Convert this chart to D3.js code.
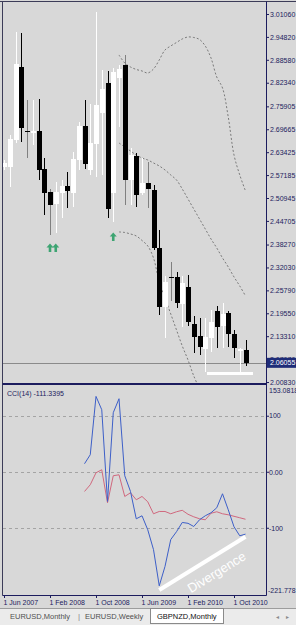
<!DOCTYPE html>
<html>
<head>
<meta charset="utf-8">
<script src="https://cdn.jsdelivr.net/npm/d3@7"></script>
<style>
body { margin: 0; background: #d8d8d8; }
svg { display: block; }
</style>
</head>
<body>
<div id="chart"></div>
<script>
//Size
var w = 296;
var h = 625;
var axisX = 266, plotL = 3;
var mainTop = 3, mainBot = 383, cciTop = 386, cciBot = 595;
var font = "'Liberation Sans', Arial, sans-serif";
var axisCol = "#1c1c5e";

//Monthly candles, Jun 2007 .. Dec 2010
var open  = [2.5940,2.5940,2.6675,2.8663,2.6920,2.6866,2.6920,2.5885,2.5259,2.4932,2.5232,2.5422,2.5232,2.6130,2.7056,2.5858,2.6566,2.7410,2.8227,2.5232,2.8363,2.8717,2.5586,2.6239,2.5232,2.5504,2.5314,2.3734,2.2128,2.2945,2.2945,2.2209,2.2672,2.1665,2.1338,2.0984,2.1283,2.2019,2.1610,2.1964,2.1392,2.0929,2.0957];
var high  = [2.6130,2.6811,2.9616,2.9589,2.7764,2.7764,2.7791,2.6185,2.5341,2.5531,2.5586,2.5804,2.6348,2.7165,2.7764,2.7655,3.0160,2.8581,2.8554,2.8636,2.8717,2.8990,2.6457,2.6321,2.6185,2.6076,2.5450,2.4224,2.2972,2.3353,2.3081,2.2972,2.2999,2.1883,2.1828,2.1828,2.2046,2.2155,2.2237,2.2019,2.1501,2.1011,2.1229];
var low   = [2.5858,2.5395,2.6593,2.6621,2.6185,2.6539,2.5586,2.4633,2.4088,2.4143,2.4551,2.4823,2.4851,2.5858,2.5885,2.5722,2.5668,2.5722,2.4551,2.4442,2.7029,2.4905,2.4905,2.4851,2.5177,2.4823,2.3680,2.1910,2.1283,2.2291,2.2100,2.1583,2.1610,2.0875,2.0821,2.0358,2.0902,2.1011,2.1011,2.1038,2.0739,2.0330,2.0521];
var close = [2.6049,2.6702,2.8744,2.7002,2.6893,2.6920,2.5858,2.5232,2.4905,2.5259,2.5422,2.5286,2.6158,2.7056,2.6021,2.6593,2.7628,2.8064,2.4796,2.8527,2.8608,2.5586,2.6267,2.5177,2.5504,2.5341,2.3734,2.2128,2.2808,2.2917,2.2237,2.2781,2.1719,2.1311,2.1038,2.1311,2.1719,2.1583,2.1937,2.1392,2.1011,2.0984,2.06055];
var grayWicks = [4, 8, 21, 25, 29];
var lastPrice = 2.06055;

//Dotted channel lines, from bar 20
var bandStart = 20;
var upperBand  = [2.8990,2.8772,2.8663,2.8595,2.8554,2.8499,2.8608,2.8853,2.9126,2.9235,2.9330,2.9426,2.9480,2.9466,2.9412,2.9235,2.8908,2.8390,2.8091,2.7301,2.6267,2.5722,2.5286];
var middleBand = [2.6593,2.6484,2.6375,2.6267,2.6185,2.6130,2.6049,2.5967,2.5858,2.5722,2.5586,2.5341,2.5068,2.4796,2.4524,2.4252,2.3979,2.3734,2.3462,2.3217,2.2945,2.2699,2.2427];
var lowerBand  = [2.4170,2.4156,2.4115,2.4061,2.3938,2.3789,2.3462,2.2808,2.2373,2.1937,2.1501,2.1066,2.0684,2.0249,1.9900];

//Buy arrows
var arrowIdx = [8, 9, 19];
var arrowPrice = [2.3734, 2.3734, 2.4034];

//White level under the last bars
var levelIdx = [35.3, 43.3];
var levelPrice = 2.0317;

//CCI(14) and its signal, from bar 14
var cciStart = 14;
var cci = [14.3,30.4,134.5,110.7,-53.0,105.4,130.4,-7.1,-35.2,-84.0,-78.6,-103.6,-139.0,-203.6,-169.0,-121.0,-107.0,-90.5,-92.0,-97.7,-85.7,-78.6,-73.2,-64.3,-39.3,-67.9,-98.2,-114.3,-111.3395];
var cciSignal = [-35.2,-23.2,-1.8,3.6,-55.4,-7.1,-5.4,-44.1,-37.5,-50.0,-44.1,-53.6,-75.0,-70.9,-70.9,-75.0,-71.4,-68.8,-75.9,-80.4,-83.9,-85.7,-74.1,-71.4,-75.0,-76.8,-79.5,-82.1,-84.8];
var divergenceIdx = [27, 42];
var divergenceCci = [-211, -116];

//Axis labels
var priceTicks = [3.0106,2.9482,2.8858,2.8234,2.75905,2.69665,2.63425,2.57185,2.50945,2.44705,2.3827,2.3203,2.2579,2.1955,2.1331,2.0707,2.0083];
var cciTicks = [100, 0, -100];
var cciTickLabels = ["100", "0.00", "-100"];
var cciMax = 153.0818, cciMin = -221.778;
var timeTickIdx = [0, 8, 16, 24, 32, 40];
var timeTickLabels = ["1 Jun 2007", "1 Feb 2008", "1 Oct 2008", "1 Jun 2009", "1 Feb 2010", "1 Oct 2010"];
var tabs = ["EURUSD,Monthly", "EURUSD,Weekly", "GBPNZD,Monthly"];

//Scales
var xScale = d3.scaleLinear().domain([0, 42]).range([4, 245.5]);
var yMain = d3.scaleLinear().domain([2.0029, 3.0378]).range([384, 4]);
var yCci = d3.scaleLinear().domain([cciMin, cciMax]).range([596, 386]);

var svg = d3.select("#chart")
.append("svg")
.attr("width", w)
.attr("height", h);

svg.append("rect").attr("width", w).attr("height", h).attr("fill", "#d8d8d8");

//Clip paths
var defs = svg.append("defs");
defs.append("clipPath").attr("id", "main-area")
.append("rect").attr("x", plotL).attr("y", mainTop).attr("width", axisX - plotL).attr("height", mainBot - mainTop);
defs.append("clipPath").attr("id", "cci-area")
.append("rect").attr("x", plotL).attr("y", cciTop).attr("width", axisX - plotL).attr("height", cciBot - cciTop);

var main = svg.append("g").attr("clip-path", "url(#main-area)");

//Last price line
main.append("line")
.attr("x1", plotL).attr("x2", axisX)
.attr("y1", Math.round(yMain(lastPrice)) + 0.5).attr("y2", Math.round(yMain(lastPrice)) + 0.5)
.attr("stroke", "#8a8a8a");

//Dotted lines
var bandLine = d3.line()
.x(function(d, k) { return xScale(bandStart + k); })
.y(function(d) { return yMain(d); })
.curve(d3.curveCatmullRom);

[upperBand, middleBand, lowerBand].forEach(function(b) {
	main.append("path")
	.attr("d", bandLine(b))
	.attr("fill", "none")
	.attr("stroke", "#7a7a7a")
	.attr("stroke-dasharray", "2,2");
});

//Candles
var bars = main.append("g").selectAll("g")
.data(d3.range(open.length))
.enter()
.append("g");

function cx(i) { return Math.round(xScale(i)); }
function barCol(i) { return close[i] >= open[i] ? "#ffffff" : "#000000"; }

bars.append("rect")
.attr("x", function(i) { return cx(i); })
.attr("width", 1)
.attr("y", function(i) { return Math.round(yMain(high[i])); })
.attr("height", function(i) { return Math.max(1, Math.round(yMain(low[i])) - Math.round(yMain(high[i]))); })
.attr("fill", function(i) { return grayWicks.indexOf(i) >= 0 ? "#808080" : barCol(i); });

bars.append("rect")
.attr("x", function(i) { return cx(i) - 2; })
.attr("width", 5)
.attr("y", function(i) { return Math.round(yMain(Math.max(open[i], close[i]))); })
.attr("height", function(i) { return Math.max(1, Math.round(yMain(Math.min(open[i], close[i]))) - Math.round(yMain(Math.max(open[i], close[i])))); })
.attr("fill", barCol);

//White level
main.append("line")
.attr("x1", xScale(levelIdx[0])).attr("x2", xScale(levelIdx[1]))
.attr("y1", yMain(levelPrice)).attr("y2", yMain(levelPrice))
.attr("stroke", "#ffffff").attr("stroke-width", 3);

//Buy arrows
main.selectAll(".arrow")
.data(arrowIdx)
.enter()
.append("path")
.attr("class", "arrow")
.attr("transform", function(d, k) { return "translate(" + xScale(d) + "," + yMain(arrowPrice[k]) + ")"; })
.attr("d", "M0,-4.5L3.5,-0.5L1.3,-0.5L1.3,4L-1.3,4L-1.3,-0.5L-3.5,-0.5Z")
.attr("fill", "#3da472");

//CCI panel
var cciG = svg.append("g").attr("clip-path", "url(#cci-area)");

cciG.selectAll(".grid")
.data(cciTicks)
.enter()
.append("line")
.attr("x1", plotL).attr("x2", axisX)
.attr("y1", function(d) { return Math.round(yCci(d)) + 0.5; })
.attr("y2", function(d) { return Math.round(yCci(d)) + 0.5; })
.attr("stroke", "#a4a4a4")
.attr("stroke-dasharray", "3,3");

var cciLine = d3.line()
.x(function(d, k) { return xScale(cciStart + k); })
.y(function(d) { return yCci(d); });

cciG.append("path").attr("d", cciLine(cciSignal)).attr("fill", "none").attr("stroke", "#d0687e").attr("stroke-width", 1);
cciG.append("path").attr("d", cciLine(cci)).attr("fill", "none").attr("stroke", "#3d5fc8").attr("stroke-width", 1);

//Divergence mark
var p1 = [xScale(divergenceIdx[0]), yCci(divergenceCci[0])];
var p2 = [xScale(divergenceIdx[1]), yCci(divergenceCci[1])];
cciG.append("line")
.attr("x1", p1[0]).attr("y1", p1[1]).attr("x2", p2[0]).attr("y2", p2[1])
.attr("stroke", "#ffffff").attr("stroke-width", 4);

var ang = Math.atan2(p2[1] - p1[1], p2[0] - p1[0]);
var t = 0.574;
var tx = p1[0] + t * (p2[0] - p1[0]) - 15 * Math.sin(ang);
var ty = p1[1] + t * (p2[1] - p1[1]) + 15 * Math.cos(ang);
cciG.append("text")
.attr("transform", "translate(" + tx + "," + ty + ") rotate(" + (ang * 180 / Math.PI) + ")")
.attr("text-anchor", "middle")
.attr("dy", "0.35em")
.attr("font-family", font)
.attr("font-size", 13)
.attr("fill", "#ffffff")
.text("Divergence");

svg.append("text")
.attr("x", 7).attr("y", 396)
.attr("font-family", font).attr("font-size", 7).attr("fill", axisCol)
.text("CCI(14) " + cci[cci.length - 1].toFixed(4));

//Frame
svg.append("line").attr("x1", 0).attr("x2", w).attr("y1", 1.5).attr("y2", 1.5).attr("stroke", "#3c3c58");
svg.append("line").attr("x1", 2.5).attr("x2", 2.5).attr("y1", 1.5).attr("y2", 595.5).attr("stroke", "#3c3c58");
svg.append("line").attr("x1", axisX + 0.5).attr("x2", axisX + 0.5).attr("y1", 1.5).attr("y2", 595.5).attr("stroke", axisCol);
svg.append("rect").attr("x", 2.5).attr("y", 383).attr("width", axisX - 2).attr("height", 2).attr("fill", axisCol);
svg.append("line").attr("x1", 2.5).attr("x2", axisX + 0.5).attr("y1", cciBot + 0.5).attr("y2", cciBot + 0.5).attr("stroke", axisCol);

//Price axis
var priceAxis = d3.axisRight(yMain)
.tickValues(priceTicks)
.tickFormat(d3.format(".5f"))
.tickSize(3)
.tickPadding(1);

var gP = svg.append("g")
.attr("transform", "translate(" + axisX + ",0)")
.call(priceAxis);
gP.select(".domain").remove();
gP.selectAll("line").attr("stroke", axisCol);
gP.selectAll("text").attr("font-family", font).attr("font-size", 7).attr("fill", axisCol);

//Last price box
var ly = yMain(lastPrice);
svg.append("rect").attr("x", axisX + 1).attr("y", ly - 5).attr("width", w - axisX - 1).attr("height", 10).attr("fill", "#1e2c78");
svg.append("text").attr("x", axisX + 4).attr("y", ly).attr("dy", "0.35em")
.attr("font-family", font).attr("font-size", 7).attr("fill", "#ffffff")
.text(d3.format(".5f")(lastPrice));

//CCI axis
var cciAxis = d3.axisRight(yCci)
.tickValues(cciTicks)
.tickFormat(function(d, k) { return cciTickLabels[k]; })
.tickSize(3)
.tickPadding(0);

var gC = svg.append("g")
.attr("transform", "translate(" + axisX + ",0)")
.call(cciAxis);
gC.select(".domain").remove();
gC.selectAll("line").attr("stroke", axisCol);
gC.selectAll("text").attr("font-family", font).attr("font-size", 7).attr("fill", axisCol);

svg.append("text").attr("x", axisX + 3).attr("y", yCci(cciMax) + 5).attr("dy", "0.35em")
.attr("font-family", font).attr("font-size", 7).attr("fill", axisCol).text(cciMax.toFixed(4));
svg.append("text").attr("x", axisX + 2).attr("y", yCci(cciMin) - 5).attr("dy", "0.35em")
.attr("font-family", font).attr("font-size", 7).attr("fill", axisCol).text(cciMin.toFixed(3));

//Time axis
var timeAxis = d3.axisBottom(xScale)
.tickValues(timeTickIdx)
.tickFormat(function(d, k) { return timeTickLabels[k]; })
.tickSize(3)
.tickPadding(2);

var gT = svg.append("g")
.attr("transform", "translate(0," + cciBot + ")")
.call(timeAxis);
gT.select(".domain").remove();
gT.selectAll("line").attr("stroke", axisCol);
gT.selectAll("text").attr("text-anchor", "start").attr("x", -1)
.attr("font-family", font).attr("font-size", 7).attr("fill", axisCol);

//Tabs
svg.append("rect").attr("x", 0).attr("y", 608).attr("width", w).attr("height", h - 608).attr("fill", "#ebebeb");
svg.append("line").attr("x1", 0).attr("x2", w).attr("y1", 608.5).attr("y2", 608.5).attr("stroke", "#9c9c9c");
svg.append("rect").attr("x", 150.5).attr("y", 608.5).attr("width", 73).attr("height", 15).attr("fill", "#ffffff").attr("stroke", "#8a8a8a");

var tabX = [10, 85, 157];
svg.selectAll(".tab")
.data(tabs)
.enter()
.append("text")
.attr("class", "tab")
.attr("x", function(d, k) { return tabX[k]; })
.attr("y", 619)
.attr("font-family", font).attr("font-size", 7.5)
.attr("fill", function(d, k) { return k === 2 ? "#111111" : "#505050"; })
.text(function(d) { return d; });

svg.append("text").attr("x", 78).attr("y", 619).attr("font-family", font).attr("font-size", 8).attr("fill", "#888888").text("|");
svg.append("text").attr("x", 276).attr("y", 619).attr("font-family", font).attr("font-size", 6).attr("fill", "#8a8a8a").text("\u25C2");
svg.append("text").attr("x", 286).attr("y", 619).attr("font-family", font).attr("font-size", 6).attr("fill", "#8a8a8a").text("\u25B8");
</script>
</body>
</html>
